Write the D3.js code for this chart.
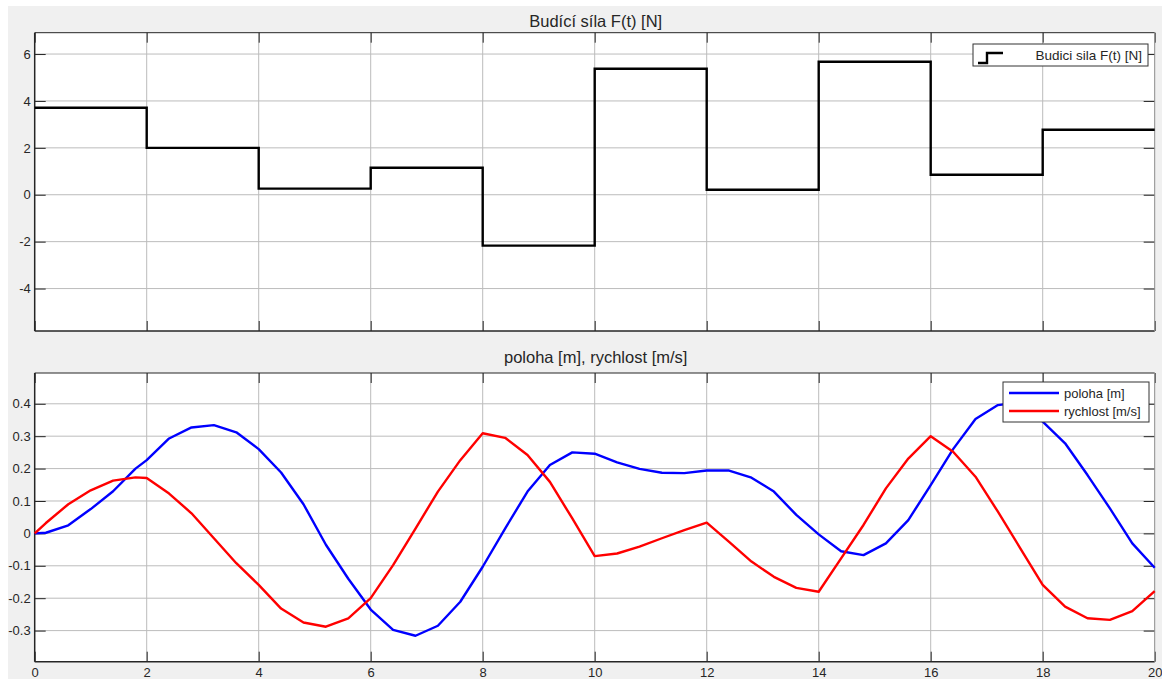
<!DOCTYPE html>
<html>
<head>
<meta charset="utf-8">
<script src="https://cdn.jsdelivr.net/npm/d3@7"></script>
<style>
html,body{margin:0;padding:0;background:#fff;}
svg{display:block;font-family:"Liberation Sans",Arial,sans-serif;}
</style>
</head>
<body>
<svg id="chart" width="1162" height="679"></svg>
<script>
// ---- data ----
const forceTimes = [0, 2, 4, 6, 8, 10, 12, 14, 16, 18];
const forceValues = [3.71, 2.00, 0.26, 1.15, -2.17, 5.37, 0.21, 5.67, 0.85, 2.77];

const timeValues = [0, 0.2, 0.6, 1.0, 1.4, 1.8, 2.0, 2.4, 2.8, 3.2, 3.6, 4.0, 4.4, 4.8, 5.2, 5.6,
  6.0, 6.4, 6.8, 7.2, 7.6, 8.0, 8.4, 8.8, 9.2, 9.6, 10.0, 10.4, 10.8, 11.2, 11.6, 12.0,
  12.4, 12.8, 13.2, 13.6, 14.0, 14.4, 14.8, 15.2, 15.6, 16.0, 16.4, 16.8, 17.2, 17.6,
  18.0, 18.4, 18.8, 19.2, 19.6, 20.0];
const polohaValues = [0, 0.002, 0.025, 0.075, 0.13, 0.20, 0.226, 0.293, 0.327, 0.334, 0.312, 0.260,
  0.188, 0.09, -0.035, -0.14, -0.235, -0.298, -0.316, -0.285, -0.211, -0.103, 0.015, 0.129,
  0.211, 0.250, 0.246, 0.219, 0.199, 0.187, 0.186, 0.194, 0.194, 0.172, 0.129, 0.057, -0.003,
  -0.055, -0.067, -0.031, 0.041, 0.149, 0.260, 0.353, 0.396, 0.405, 0.345, 0.278, 0.180,
  0.077, -0.031, -0.106];
const rychlostValues = [0, 0.032, 0.090, 0.133, 0.163, 0.173, 0.171, 0.123, 0.062, -0.015, -0.092,
  -0.159, -0.232, -0.275, -0.288, -0.262, -0.20, -0.098, 0.015, 0.129, 0.226, 0.309, 0.295,
  0.242, 0.159, 0.046, -0.070, -0.062, -0.041, -0.015, 0.010, 0.033, -0.026, -0.087, -0.134,
  -0.168, -0.180, -0.077, 0.026, 0.139, 0.231, 0.300, 0.252, 0.175, 0.067, -0.046, -0.159,
  -0.226, -0.262, -0.267, -0.240, -0.178];

const xTicks = [0, 2, 4, 6, 8, 10, 12, 14, 16, 18, 20];
const forceTicks = [-4, -2, 0, 2, 4, 6];
const motionTicks = [-0.3, -0.2, -0.1, 0, 0.1, 0.2, 0.3, 0.4];

const topTitle = "Budící síla F(t) [N]";
const bottomTitle = "poloha [m], rychlost [m/s]";
const forceLegend = "Budici sila F(t) [N]";
const polohaLegend = "poloha [m]";
const rychlostLegend = "rychlost [m/s]";

// ---- layout ----
const svg = d3.select("#chart");
svg.append("rect").attr("x", 8).attr("y", 6).attr("width", 1154).attr("height", 673).attr("fill", "#f0f0f0");

const left = 34.7, right = 1154.7;
const x = d3.scaleLinear().domain([0, 20]).range([left, right]);

const yTop = d3.scaleLinear().domain([-5.81, 6.91]).range([331, 32.7]);
const yBot = d3.scaleLinear().domain([-0.396, 0.495]).range([661.7, 373]);

const fmt = d => (Math.round(d * 10) / 10).toString();

function panel(y, yTicks, showXLabels, title, titleY) {
  const [y0, y1] = y.range();
  const g = svg.append("g");
  g.append("rect").attr("x", left).attr("y", y1).attr("width", right - left).attr("height", y0 - y1)
    .attr("fill", "#fff");
  // grid
  const grid = g.append("g");
  grid.selectAll("line.vx").data(xTicks.filter(d => d > 0 && d < 20)).join("line")
    .attr("x1", d => x(d)).attr("x2", d => x(d)).attr("y1", y1).attr("y2", y0)
    .attr("stroke", "#bcbcbc").attr("stroke-width", 1);
  grid.selectAll("line.hy").data(yTicks).join("line")
    .attr("x1", left).attr("x2", right).attr("y1", d => y(d)).attr("y2", d => y(d))
    .attr("stroke", "#bcbcbc").attr("stroke-width", 1);
  // axes
  const ax = g.append("g").attr("transform", `translate(0,${y0})`)
    .call(d3.axisBottom(x).tickValues(xTicks).tickSizeInner(-10).tickSizeOuter(0).tickPadding(8)
      .tickFormat(showXLabels ? (d => String(d)) : () => ""));
  const axT = g.append("g").attr("transform", `translate(0,${y1})`)
    .call(d3.axisTop(x).tickValues(xTicks).tickSizeInner(-10).tickSizeOuter(0).tickFormat(() => ""));
  const ay = g.append("g").attr("transform", `translate(${left},0)`)
    .call(d3.axisLeft(y).tickValues(yTicks).tickSizeInner(-11).tickSizeOuter(0).tickPadding(4)
      .tickFormat(fmt));
  const ayR = g.append("g").attr("transform", `translate(${right},0)`)
    .call(d3.axisRight(y).tickValues(yTicks).tickSizeInner(-11).tickSizeOuter(0).tickFormat(() => ""));
  [ax, axT, ay, ayR].forEach(a => {
    a.select(".domain").remove();
    a.selectAll(".tick line").attr("stroke", "#262626").attr("stroke-width", 1);
    a.selectAll("text").attr("fill", "#262626").style("font-size", "13px")
      .style("font-family", "'Liberation Sans',Arial,sans-serif");
  });
  ax.selectAll("text").attr("dy", null).attr("y", 15.5);
  // box
  g.append("line").attr("x1", left).attr("x2", right).attr("y1", y1).attr("y2", y1).attr("stroke", "#262626");
  g.append("line").attr("x1", left).attr("x2", left).attr("y1", y1).attr("y2", y0).attr("stroke", "#262626").attr("stroke-width", 1.5);
  g.append("line").attr("x1", left).attr("x2", right).attr("y1", y0).attr("y2", y0).attr("stroke", "#262626").attr("stroke-width", 1.5);
  g.append("line").attr("x1", right).attr("x2", right).attr("y1", y1).attr("y2", y0).attr("stroke", "#8a8a8a");
  // title
  svg.append("text").attr("x", (left + right) / 2 + 1).attr("y", titleY).attr("text-anchor", "middle")
    .attr("fill", "#262626").style("font-size", "16.5px").text(title);
  return g;
}

// ---- top panel ----
const gTop = panel(yTop, forceTicks, false, topTitle, 26.5);
const stepData = forceTimes.map((t, i) => [t, forceValues[i]]);
stepData.push([20, forceValues[forceValues.length - 1]]);
gTop.append("path").datum(stepData)
  .attr("d", d3.line().x(d => x(d[0])).y(d => yTop(d[1])).curve(d3.curveStepAfter))
  .attr("fill", "none").attr("stroke", "#000").attr("stroke-width", 2.4);

// legend top
const lg1 = svg.append("g");
lg1.append("rect").attr("x", 973).attr("y", 44).attr("width", 175).attr("height", 22)
  .attr("fill", "#fff").attr("stroke", "#333").attr("stroke-width", 1);
lg1.append("path").attr("d", "M978,63 L987,63 L987,53 L1003,53").attr("fill", "none")
  .attr("stroke", "#000").attr("stroke-width", 2.4);
lg1.append("text").attr("x", 1142).attr("y", 59.5).attr("text-anchor", "end").attr("fill", "#262626")
  .style("font-size", "13.5px").text(forceLegend);

// ---- bottom panel ----
const gBot = panel(yBot, motionTicks, true, bottomTitle, 362.5);
const lineGen = vals => d3.line().x((d, i) => x(timeValues[i])).y(d => yBot(d))(vals);
gBot.append("path").attr("d", lineGen(polohaValues)).attr("fill", "none")
  .attr("stroke", "#0000ff").attr("stroke-width", 2.4).attr("stroke-linejoin", "round");
gBot.append("path").attr("d", lineGen(rychlostValues)).attr("fill", "none")
  .attr("stroke", "#ff0000").attr("stroke-width", 2.4).attr("stroke-linejoin", "round");

// legend bottom
const lg2 = svg.append("g");
lg2.append("rect").attr("x", 1003).attr("y", 382).attr("width", 146).attr("height", 40)
  .attr("fill", "#fff").attr("stroke", "#333").attr("stroke-width", 1);
lg2.append("line").attr("x1", 1009).attr("x2", 1059).attr("y1", 393).attr("y2", 393)
  .attr("stroke", "#0000ff").attr("stroke-width", 2.4);
lg2.append("line").attr("x1", 1009).attr("x2", 1059).attr("y1", 411).attr("y2", 411)
  .attr("stroke", "#ff0000").attr("stroke-width", 2.4);
lg2.append("text").attr("x", 1064).attr("y", 397.5).attr("fill", "#262626").style("font-size", "13px").text(polohaLegend);
lg2.append("text").attr("x", 1064).attr("y", 415.5).attr("fill", "#262626").style("font-size", "13px").text(rychlostLegend);
</script>
</body>
</html>
